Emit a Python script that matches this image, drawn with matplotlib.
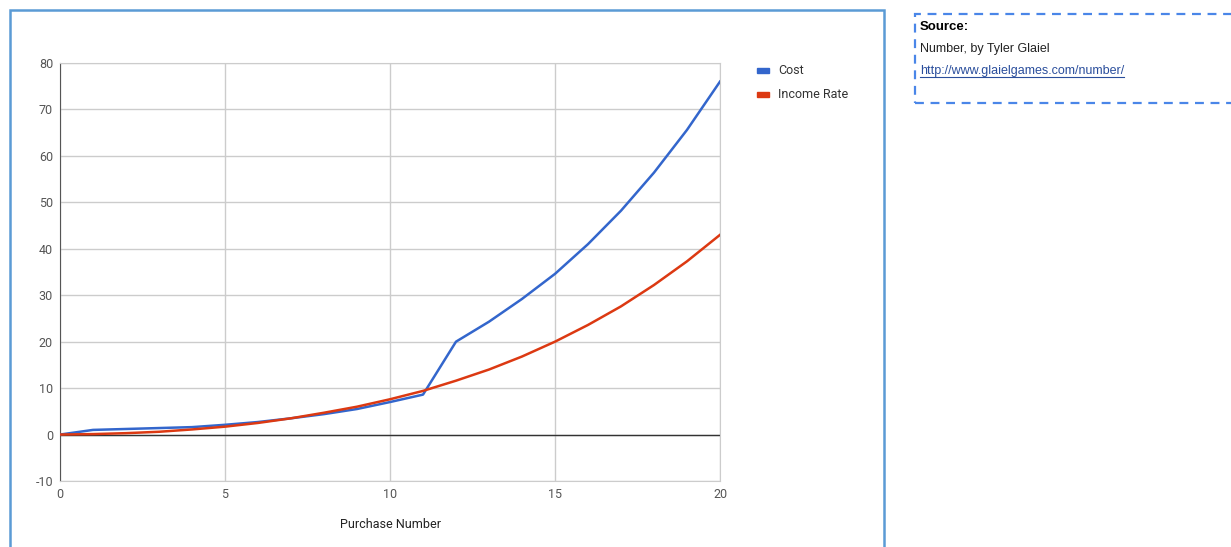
import matplotlib
matplotlib.use("Agg")
import matplotlib.pyplot as plt
from matplotlib.patches import Rectangle

plt.rcParams["axes.unicode_minus"] = False

# Data
purchase = list(range(21))
cost = [0, 1.0, 1.2, 1.4, 1.6, 2.1, 2.7, 3.5, 4.4, 5.5, 7.0, 8.6,
        20.0, 24.3, 29.2, 34.6, 41.0, 48.2, 56.4, 65.6, 76.0]
income_rate = [0, 0.1, 0.3, 0.6, 1.1, 1.7, 2.5, 3.5, 4.7, 6.0, 7.6, 9.4,
               11.6, 14.0, 16.8, 20.0, 23.6, 27.6, 32.2, 37.3, 43.0]
series_names = ["Cost", "Income Rate"]
series_colors = ["#3366cc", "#dc3912"]
x_ticks = [0, 5, 10, 15, 20]
y_ticks = [-10, 0, 10, 20, 30, 40, 50, 60, 70, 80]

W, H = 1231, 547
fig = plt.figure(figsize=(W / 100, H / 100), dpi=100)

def fx(px):
    return px / W

def fy(py):
    return 1 - py / H

# outer chart box
fig.patches.append(Rectangle((fx(10), fy(560)), fx(874), 550 / H, transform=fig.transFigure,
                             fill=False, edgecolor="#5b9bd5", linewidth=1.8))

# plot area
ax = fig.add_axes([fx(60), fy(481), fx(660), 418 / H])
for name, vals, col in zip(series_names, [cost, income_rate], series_colors):
    ax.plot(purchase, vals, color=col, linewidth=1.8, label=name, zorder=3)

ax.set_xlim(0, 20)
ax.set_ylim(-10, 80)
ax.set_xticks(x_ticks)
ax.set_yticks(y_ticks)
ax.grid(True, color="#cccccc", linewidth=1)
ax.axhline(0, color="#333333", linewidth=1, zorder=2)
for s in ["top", "right", "bottom"]:
    ax.spines[s].set_color("#cccccc")
ax.spines["left"].set_color("#555555")
ax.tick_params(length=0, labelsize=9, labelcolor="#555555", pad=5)
for lab in ax.get_xticklabels() + ax.get_yticklabels():
    lab.set_family("Roboto")
ax.set_xlabel("Purchase Number", family="Roboto", fontsize=9, color="#222222", labelpad=12)

# legend
for i, (name, col) in enumerate(zip(series_names, series_colors)):
    yy = 70 + i * 24
    fig.patches.append(Rectangle((fx(757), fy(yy + 2.5)), fx(12), 5 / H, transform=fig.transFigure,
                                 color=col))
    fig.text(fx(778), fy(yy), name, family="Roboto", fontsize=9, color="#333333", va="center")

# source box
fig.patches.append(Rectangle((fx(915), fy(103)), fx(330), 89 / H, transform=fig.transFigure,
                             fill=False, edgecolor="#4a86e8", linewidth=1.6, linestyle=(0, (4, 3))))
fig.text(fx(920), fy(27), "Source:", family="Liberation Sans", fontsize=9.5, weight="bold",
         color="#000000", va="center")
fig.text(fx(920), fy(49), "Number, by Tyler Glaiel", family="Liberation Sans", fontsize=9,
         color="#222222", va="center")
link = fig.text(fx(920), fy(71), "http://www.glaielgames.com/number/", family="Liberation Sans",
                fontsize=9, color="#2a4e9c", va="center")
fig.canvas.draw()
bb = link.get_window_extent()
fig.lines.append(plt.Line2D([bb.x0 / W, bb.x1 / W], [fy(77), fy(77)], transform=fig.transFigure,
                            color="#2a4e9c", linewidth=0.8))

fig.savefig("out.png", dpi=100)
